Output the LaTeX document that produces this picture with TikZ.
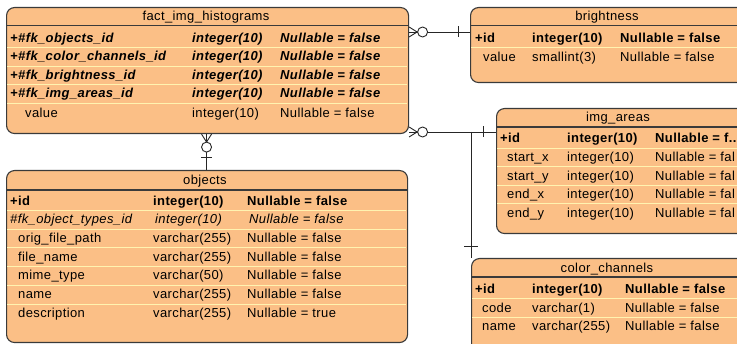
\documentclass[tikz,border=0pt]{standalone}
\usepackage{fontspec}
\setmainfont{Liberation Sans}[LetterSpace=3]
\newcommand\fsz{\fontsize{13}{15}\selectfont}
\definecolor{tblfill}{HTML}{FBBF86}
\definecolor{tblline}{HTML}{3A3A3A}
\definecolor{rowsep}{HTML}{FFF3B0}
\tikzset{
  tbl/.style={draw=tblline, line width=1.1pt, fill=tblfill, rounded corners=8pt, anchor=north west, inner sep=0pt},
  hdrline/.style={draw=tblline, line width=1.1pt},
  sepline/.style={draw=rowsep, line width=1pt},
  txt/.style={inner sep=0pt, anchor=base west, font=\fsz, text=black},
  bfi/.style={txt, font=\fsz\bfseries\itshape},
  bfn/.style={txt, font=\fsz\bfseries},
  itn/.style={txt, font=\fsz\itshape},
  ttl/.style={inner sep=0pt, anchor=base, font=\fsz, text=black},
  conn/.style={draw=black!85, line width=0.9pt},
  ring/.style={draw=black!85, line width=0.9pt, fill=white},
}
\begin{document}
\begin{tikzpicture}[x=1pt,y=-1pt]
\useasboundingbox (0,0) rectangle (737,344);
\clip (0,0) rectangle (737,344);
\fill[white] (0,0) rectangle (737,344);

% ---------- fact_img_histograms ----------
\node[tbl, minimum width=402pt, minimum height=126pt] (fact) at (6,7) {};
\draw[hdrline] (6,25.5) -- (408,25.5);
\foreach \yy in {48,66.5,85,103.5} \draw[sepline] (7,\yy) -- (407,\yy);
\node[ttl] (factT) at (206,21) {fact\_img\_histograms};
\node[bfi] (f1a) at (10,42.5) {+\#fk\_objects\_id};
\node[bfi] (f1b) at (192,42.5) {integer(10)};
\node[bfi] (f1c) at (280,42.5) {Nullable = false};
\node[bfi] (f2a) at (10,61) {+\#fk\_color\_channels\_id};
\node[bfi] (f2b) at (192,61) {integer(10)};
\node[bfi] (f2c) at (280,61) {Nullable = false};
\node[bfi] (f3a) at (10,79.5) {+\#fk\_brightness\_id};
\node[bfi] (f3b) at (192,79.5) {integer(10)};
\node[bfi] (f3c) at (280,79.5) {Nullable = false};
\node[bfi] (f4a) at (10,98) {+\#fk\_img\_areas\_id};
\node[bfi] (f4b) at (192,98) {integer(10)};
\node[bfi] (f4c) at (280,98) {Nullable = false};
\node[txt] (f5a) at (25,118) {value};
\node[txt] (f5b) at (192,118) {integer(10)};
\node[txt] (f5c) at (280,118) {Nullable = false};

% ---------- brightness ----------
\node[tbl, minimum width=275pt, minimum height=75pt] (bright) at (470,7) {};
\draw[hdrline] (470,25.5) -- (745,25.5);
\draw[sepline] (471,48) -- (745,48);
\node[ttl] (brightT) at (607,21) {brightness};
\node[bfn] (b1a) at (475,42.5) {+id};
\node[bfn] (b1b) at (532,42.5) {integer(10)};
\node[bfn] (b1c) at (620,42.5) {Nullable = false};
\node[txt] (b2a) at (483,61.5) {value};
\node[txt] (b2b) at (532,61.5) {smallint(3)};
\node[txt] (b2c) at (620,61.5) {Nullable = false};

% ---------- img_areas ----------
\node[tbl, minimum width=262pt, minimum height=125pt] (img) at (496,108) {};
\draw[hdrline] (496,127) -- (758,127);
\foreach \yy in {148.5,167,185.5,204} \draw[sepline] (497,\yy) -- (758,\yy);
\node[ttl] (imgT) at (618,122) {img\_areas};
\node[bfn] (i1a) at (500,143) {+id};
\node[bfn] (i1b) at (567,143) {integer(10)};
\node[bfn] (i1c) at (655,143) {Nullable = f..};
\node[txt] (i2a) at (507,162) {start\_x};
\node[txt] (i2b) at (567,162) {integer(10)};
\node[txt] (i2c) at (655,162) {Nullable = fal};
\node[txt] (i3a) at (507,180.5) {start\_y};
\node[txt] (i3b) at (567,180.5) {integer(10)};
\node[txt] (i3c) at (655,180.5) {Nullable = fal};
\node[txt] (i4a) at (507,199) {end\_x};
\node[txt] (i4b) at (567,199) {integer(10)};
\node[txt] (i4c) at (655,199) {Nullable = fal};
\node[txt] (i5a) at (507,217.5) {end\_y};
\node[txt] (i5b) at (567,217.5) {integer(10)};
\node[txt] (i5c) at (655,217.5) {Nullable = fal};

% ---------- color_channels ----------
\node[tbl, minimum width=275pt, minimum height=110pt] (color) at (471,258) {};
\draw[hdrline] (471,277) -- (746,277);
\foreach \yy in {299,317.5} \draw[sepline] (472,\yy) -- (746,\yy);
\node[ttl] (colorT) at (607,273) {color\_channels};
\node[bfn] (c1a) at (475,293.5) {+id};
\node[bfn] (c1b) at (532,293.5) {integer(10)};
\node[bfn] (c1c) at (625,293.5) {Nullable = false};
\node[txt] (c2a) at (482,312.5) {code};
\node[txt] (c2b) at (532,312.5) {varchar(1)};
\node[txt] (c2c) at (625,312.5) {Nullable = false};
\node[txt] (c3a) at (482,331) {name};
\node[txt] (c3b) at (532,331) {varchar(255)};
\node[txt] (c3c) at (625,331) {Nullable = false};

% ---------- objects ----------
\node[tbl, minimum width=401pt, minimum height=172pt] (obj) at (6,170) {};
\draw[hdrline] (6,190) -- (407,190);
\foreach \yy in {211,229.5,248,267,286,304.5} \draw[sepline] (7,\yy) -- (406,\yy);
\node[ttl] (objT) at (205,185) {objects};
\node[bfn] (o1a) at (10,205.5) {+id};
\node[bfn] (o1b) at (153,205.5) {integer(10)};
\node[bfn] (o1c) at (247,205.5) {Nullable = false};
\node[itn] (o2a) at (10,224) {\#fk\_object\_types\_id};
\node[itn] (o2b) at (155,224) {integer(10)};
\node[itn] (o2c) at (249,224) {Nullable = false};
\node[txt] (o3a) at (18,243) {orig\_file\_path};
\node[txt] (o3b) at (153,243) {varchar(255)};
\node[txt] (o3c) at (247,243) {Nullable = false};
\node[txt] (o4a) at (18,261.5) {file\_name};
\node[txt] (o4b) at (153,261.5) {varchar(255)};
\node[txt] (o4c) at (247,261.5) {Nullable = false};
\node[txt] (o5a) at (18,280) {mime\_type};
\node[txt] (o5b) at (153,280) {varchar(50)};
\node[txt] (o5c) at (247,280) {Nullable = false};
\node[txt] (o6a) at (18,299) {name};
\node[txt] (o6b) at (153,299) {varchar(255)};
\node[txt] (o6c) at (247,299) {Nullable = false};
\node[txt] (o7a) at (18,317.5) {description};
\node[txt] (o7b) at (153,317.5) {varchar(255)};
\node[txt] (o7c) at (247,317.5) {Nullable = true};

% ---------- connectors ----------
% fact -> brightness
\path (fact.north east) ++(0,25) coordinate (fb1);
\path (bright.north west) ++(0,25) coordinate (fb2);
\draw[conn] (fb1) -- (fb2);
\draw[conn] (fb1) ++(0,-5) -- ++(8,5) -- ++(-8,5);
\draw[ring] (fb1) ++(13.5,0) circle (5);
\draw[conn] (fb2) ++(-12,-5.5) -- ++(0,11);

% fact -> img_areas
\path (fact.north east) ++(0,125) coordinate (fi1);
\path (img.north west) ++(0,24) coordinate (fi2);
\draw[conn] (fi1) -- (fi2);
\draw[conn] (fi1) ++(0,-5) -- ++(8,5) -- ++(-8,5);
\draw[ring] (fi1) ++(13.5,0) circle (5);
\draw[conn] (fi2) ++(-13,-5.5) -- ++(0,11);

% branch -> color_channels
\path (fi1) ++(62,0) coordinate (fj);
\draw[conn] (fj) -- (fj |- color.north);
\path (fj |- color.north) ++(0,-12) coordinate (fc);
\draw[conn] (fc) ++(-7,0) -- ++(14,0);

% fact -> objects
\path (fact.south) ++(-1,0) coordinate (fo1);
\draw[conn] (fo1) -- (fo1 |- obj.north);
\draw[conn] (fo1) ++(-5,0) -- ++(5,8) -- ++(5,-8);
\draw[ring] (fo1) ++(0,13) circle (5);
\path (fo1 |- obj.north) ++(0,-13) coordinate (fo2);
\draw[conn] (fo2) ++(-5.5,0) -- ++(11,0);
\end{tikzpicture}
\end{document}
